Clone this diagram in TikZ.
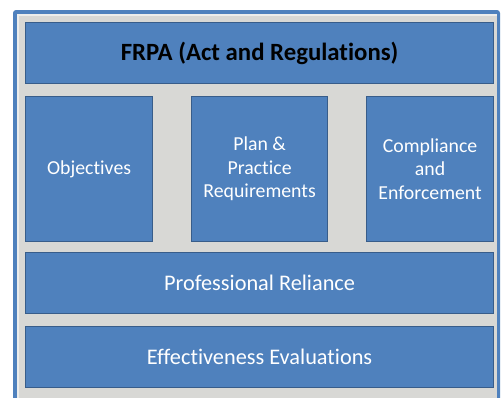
\documentclass[tikz,border=0pt]{standalone}
\usepackage{fontspec}
\setmainfont{Carlito}[Ligatures=NoCommon]
\definecolor{boxblue}{HTML}{4F81BD}
\definecolor{boxedge}{HTML}{385D8A}
\definecolor{panelgray}{HTML}{D8D8D5}
\definecolor{framelight}{HTML}{EDEDEB}
\begin{document}
\begin{tikzpicture}[x=1pt,y=-1pt,
  blk/.style={draw=boxedge,line width=1.2pt,fill=boxblue,text=white,
    font=\fontsize{22.3}{23.5}\selectfont,align=center,inner sep=0pt},
  midblk/.style={blk,font=\fontsize{19.8}{23.5}\selectfont,
    minimum height=145pt,anchor=north west},
  toplbl/.style={text=black,font=\bfseries\fontsize{24.8}{28}\selectfont}]
\useasboundingbox (0,0) rectangle (501,397);
\fill[white] (0,0) rectangle (501,397);
% outer frame
\fill[boxblue,rounded corners=3pt] (13,10) rectangle (500,410);
\fill[framelight] (17,14) rectangle (497,410);
\fill[panelgray] (19,16) rectangle (497,410);
% boxes
\node[blk,minimum width=468pt,minimum height=61pt,anchor=north west] (frpa) at (25,22) {};
\node[toplbl] at (frpa.center) {FRPA (Act and Regulations)};
\node[midblk,minimum width=127pt] (obj) at (25,96) {Objectives};
\node[midblk,minimum width=136pt] (plan) at (191,96) {\rule{0pt}{4pt}Plan \&\\Practice\\Requirements};
\node[midblk,minimum width=127pt] (comp) at (366,96) {\rule{0pt}{4pt}Compliance\\and\\Enforcement};
\node[blk,minimum width=468pt,minimum height=61pt,anchor=north west] (prof) at (25,252) {Professional Reliance};
\node[blk,minimum width=468pt,minimum height=61pt,anchor=north west] (eff) at (25,326) {Effectiveness Evaluations};
\end{tikzpicture}
\end{document}
